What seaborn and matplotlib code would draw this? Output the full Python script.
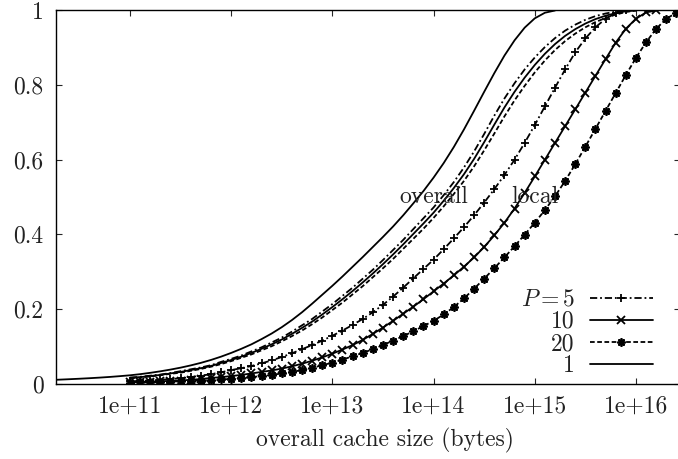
"""
Hit ratio vs. overall cache size, overall and local curves for P = 1, 5, 10, 20.

Output: out.png
"""

import matplotlib.pyplot as plt
import numpy as np
import pandas as pd
import seaborn as sns
from matplotlib.ticker import FixedLocator, FixedFormatter, NullLocator

# log10 of cache size (bytes) at which the curves were sampled
exp_p1 = [10.2, 10.3, 10.4, 10.5, 10.6, 10.7, 10.8, 10.9,
          11.0, 11.1, 11.2, 11.3, 11.4, 11.5, 11.6, 11.7, 11.8, 11.9,
          12.0, 12.1, 12.2, 12.3, 12.4, 12.5, 12.6, 12.7, 12.8, 12.9,
          13.0, 13.1, 13.2, 13.3, 13.4, 13.5, 13.6, 13.7, 13.8, 13.9,
          14.0, 14.1, 14.2, 14.3, 14.4, 14.5, 14.6, 14.7, 14.8, 14.9,
          15.0, 15.1, 15.2]
exp_grid = [11.0, 11.1, 11.2, 11.3, 11.4, 11.5, 11.6, 11.7, 11.8, 11.9,
            12.0, 12.1, 12.2, 12.3, 12.4, 12.5, 12.6, 12.7, 12.8, 12.9,
            13.0, 13.1, 13.2, 13.3, 13.4, 13.5, 13.6, 13.7, 13.8, 13.9,
            14.0, 14.1, 14.2, 14.3, 14.4, 14.5, 14.6, 14.7, 14.8, 14.9,
            15.0, 15.1, 15.2, 15.3, 15.4, 15.5, 15.6, 15.7, 15.8, 15.9,
            16.0, 16.1, 16.2, 16.3, 16.4, 16.5]

p1 = [0.0092, 0.0103, 0.0115, 0.0128, 0.0142, 0.0158, 0.0176, 0.0197,
      0.022, 0.025, 0.0286, 0.0327, 0.0373, 0.0425, 0.0485, 0.0553, 0.0631, 0.072,
      0.082, 0.093, 0.105, 0.119, 0.134, 0.151, 0.170, 0.191, 0.214, 0.238,
      0.262, 0.287, 0.313, 0.339, 0.366, 0.393, 0.421, 0.451, 0.483, 0.516,
      0.552, 0.591, 0.634, 0.681, 0.731, 0.782, 0.832, 0.879, 0.920, 0.954,
      0.979, 0.994, 1.0]

overall_p5 = [0.016, 0.018, 0.021, 0.024, 0.028, 0.033, 0.038, 0.043, 0.049, 0.058,
              0.066, 0.075, 0.086, 0.097, 0.110, 0.123, 0.139, 0.156, 0.173, 0.193,
              0.213, 0.235, 0.257, 0.281, 0.305, 0.331, 0.358, 0.385, 0.414, 0.443,
              0.472, 0.505, 0.540, 0.579, 0.622, 0.669, 0.718, 0.764, 0.805, 0.842,
              0.874, 0.902, 0.926, 0.946, 0.962, 0.975, 0.985, 0.992, 0.997, 1.0]
overall_p10 = [0.015, 0.017, 0.020, 0.023, 0.027, 0.031, 0.036, 0.041, 0.047, 0.055,
               0.063, 0.072, 0.082, 0.093, 0.105, 0.118, 0.133, 0.149, 0.166, 0.185,
               0.205, 0.226, 0.248, 0.271, 0.295, 0.320, 0.346, 0.373, 0.401, 0.429,
               0.458, 0.490, 0.524, 0.561, 0.602, 0.647, 0.694, 0.740, 0.782, 0.820,
               0.854, 0.884, 0.910, 0.932, 0.950, 0.965, 0.977, 0.986, 0.993, 0.998,
               1.0]
overall_p20 = [0.014, 0.016, 0.019, 0.022, 0.026, 0.029, 0.034, 0.039, 0.045, 0.052,
               0.060, 0.069, 0.078, 0.089, 0.100, 0.113, 0.127, 0.142, 0.159, 0.177,
               0.197, 0.217, 0.239, 0.261, 0.285, 0.309, 0.334, 0.361, 0.388, 0.415,
               0.444, 0.475, 0.508, 0.543, 0.582, 0.625, 0.670, 0.716, 0.759, 0.798,
               0.834, 0.866, 0.894, 0.918, 0.938, 0.955, 0.969, 0.980, 0.989, 0.996,
               1.0]

local_p5 = [0.006, 0.007, 0.008, 0.010, 0.012, 0.014, 0.017, 0.021, 0.025, 0.030,
            0.036, 0.041, 0.047, 0.054, 0.062, 0.071, 0.081, 0.092, 0.103, 0.115,
            0.128, 0.142, 0.157, 0.173, 0.191, 0.211, 0.233, 0.257, 0.282, 0.307,
            0.332, 0.360, 0.389, 0.419, 0.451, 0.485, 0.521, 0.559, 0.600, 0.645,
            0.693, 0.743, 0.793, 0.842, 0.888, 0.925, 0.955, 0.978, 0.993, 1.0]
local_p10 = [0.003, 0.004, 0.005, 0.006, 0.007, 0.008, 0.010, 0.012, 0.015, 0.017,
             0.020, 0.023, 0.027, 0.031, 0.035, 0.040, 0.046, 0.053, 0.061, 0.070,
             0.080, 0.091, 0.103, 0.117, 0.133, 0.150, 0.168, 0.187, 0.206, 0.226,
             0.247, 0.268, 0.290, 0.313, 0.338, 0.366, 0.397, 0.431, 0.469, 0.511,
             0.555, 0.600, 0.645, 0.690, 0.735, 0.780, 0.825, 0.870, 0.914, 0.951,
             0.978, 0.995, 1.0]
local_p20 = [0.002, 0.003, 0.003, 0.004, 0.005, 0.006, 0.007, 0.008, 0.009, 0.011,
             0.012, 0.014, 0.017, 0.020, 0.023, 0.027, 0.031, 0.036, 0.042, 0.049,
             0.056, 0.064, 0.073, 0.082, 0.092, 0.103, 0.115, 0.127, 0.140, 0.154,
             0.168, 0.185, 0.205, 0.228, 0.254, 0.281, 0.309, 0.338, 0.368, 0.399,
             0.431, 0.465, 0.502, 0.543, 0.588, 0.635, 0.683, 0.731, 0.779, 0.827,
             0.873, 0.915, 0.951, 0.978, 0.994, 1.0]

x_ticks = [1e11, 1e12, 1e13, 1e14, 1e15, 1e16]
x_tick_labels = ["1e+11", "1e+12", "1e+13", "1e+14", "1e+15", "1e+16"]
y_ticks = [0, 0.2, 0.4, 0.6, 0.8, 1.0]
y_tick_labels = ["0", "0.2", "0.4", "0.6", "0.8", "1"]

legend_labels = {"local_p5": "$P = 5$", "local_p10": "10", "local_p20": "20", "p1": "1"}

sns.set_style("ticks")
plt.rcParams["font.family"] = ["cmr10", "DejaVu Serif"]
plt.rcParams["mathtext.fontset"] = "cm"
plt.rcParams["axes.formatter.use_mathtext"] = True

TEXT = "#222222"
FS = 17


def frame(exps, values, name):
    return pd.DataFrame({"size": np.power(10.0, exps[:len(values)]),
                         "ratio": values, "curve": name})


curves = [
    # name, values, grid, linestyle, marker
    ("p1", p1, exp_p1, "-", None),
    ("overall_p5", overall_p5, exp_grid, (0, (4, 1.6, 1, 1.6)), None),
    ("overall_p10", overall_p10, exp_grid, "-", None),
    ("overall_p20", overall_p20, exp_grid, (0, (2.6, 1.4)), None),
    ("local_p5", local_p5, exp_grid, (0, (4, 1.6, 1, 1.6)), "+"),
    ("local_p10", local_p10, exp_grid, "-", "x"),
    ("local_p20", local_p20, exp_grid, (0, (2.6, 1.4)), (8, 2, 0)),
]

fig = plt.figure(figsize=(6.78, 4.59), dpi=100)
ax = fig.add_axes([56 / 678, 75.5 / 459, 624 / 678, 373 / 459])
ax.set_xscale("log")

handles = {}
for name, values, grid, ls, marker in curves:
    df = frame(grid, values, name)
    sns.lineplot(data=df, x="size", y="ratio", ax=ax, color="black",
                 linestyle=ls, linewidth=1.3, marker=marker, markersize=6,
                 markeredgewidth=1.3, markeredgecolor="black",
                 label=legend_labels.get(name), legend=False)
    if name in legend_labels:
        handles[name] = ax.get_lines()[-1]

ax.set_xlim(10 ** 10.269, 10 ** 16.435)
ax.set_ylim(0, 1)

ax.xaxis.set_major_locator(FixedLocator(x_ticks))
ax.xaxis.set_major_formatter(FixedFormatter(x_tick_labels))
ax.xaxis.set_minor_locator(NullLocator())
ax.yaxis.set_major_locator(FixedLocator(y_ticks))
ax.yaxis.set_major_formatter(FixedFormatter(y_tick_labels))
ax.tick_params(which="both", direction="in", top=True, right=True,
               length=4.3, width=0.8, labelsize=FS, labelcolor=TEXT, pad=9)
for s in ax.spines.values():
    s.set_linewidth(1.0)
    s.set_color("black")

ax.set_xlabel("overall cache size (bytes)", fontsize=FS, color=TEXT)
ax.set_ylabel("")
ax.xaxis.set_label_coords((384.5 - 56) / 624, -56.5 / 373)
ax.xaxis.label.set_va("center")

ax.text(1e14, 0.5, "overall", fontsize=FS, color=TEXT, ha="center", va="center")
ax.text(1e15, 0.5, "local", fontsize=FS, color=TEXT, ha="center", va="center")

order = ["local_p5", "local_p10", "local_p20", "p1"]
leg = ax.legend([handles[k] for k in order], [legend_labels[k] for k in order],
                loc="lower right", bbox_to_anchor=((653 - 56) / 624, 0.017),
                frameon=False, markerfirst=False, numpoints=1,
                handlelength=2.67, handletextpad=0.64, labelspacing=0.0,
                borderpad=0, borderaxespad=0, fontsize=FS)
for t in leg.get_texts():
    t.set_color(TEXT)

fig.savefig("out.png", dpi=100)
